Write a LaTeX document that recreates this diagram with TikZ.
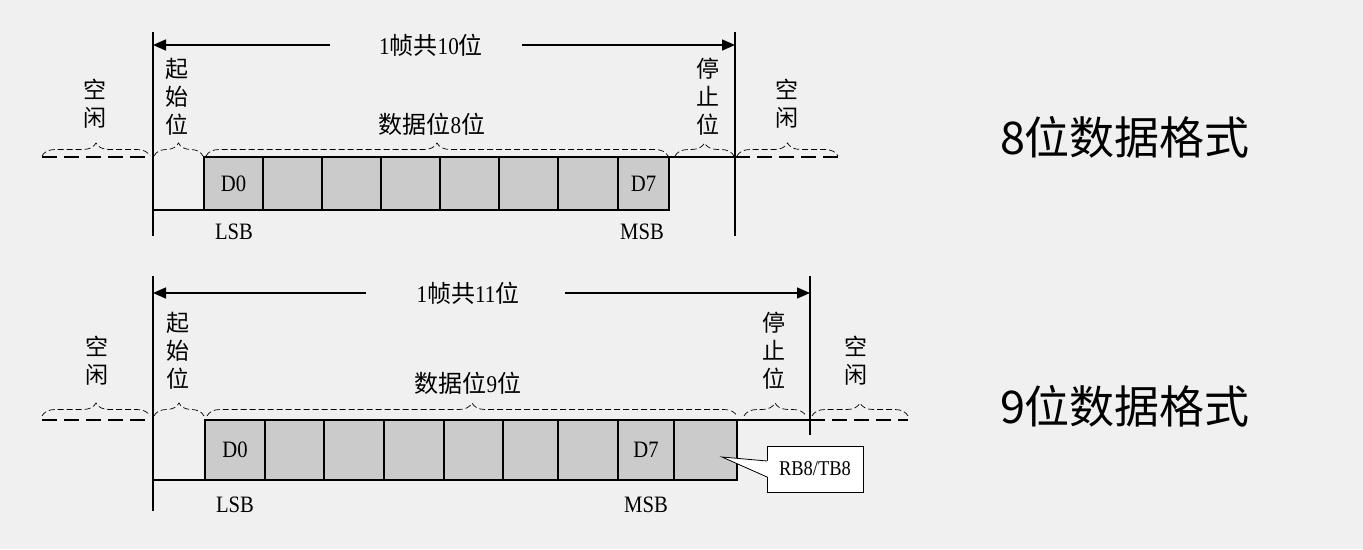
\documentclass[tikz,border=0pt]{standalone}
\usepackage{fontspec}
\setmainfont{Liberation Serif}[FakeStretch=0.88]
\newfontfamily\cjk{Noto Sans CJK SC}
\usetikzlibrary{arrows.meta,decorations.pathreplacing}
\definecolor{paper}{HTML}{F0F0F0}
\definecolor{bitfill}{HTML}{CBCBCB}
\begin{document}
\begin{tikzpicture}[x=1pt,y=-1pt,
  wire/.style={line width=1.5pt},
  idle/.style={line width=1.6pt, dash pattern=on 15pt off 7pt},
  brc/.style={decorate, decoration={brace, amplitude=13pt}, line width=0.7pt, dash pattern=on 6pt off 3pt},
  dim/.style={line width=1.4pt, -{Triangle[length=13pt,width=11pt]}},
  bit/.style={draw, line width=1.5pt, fill=bitfill, inner sep=0pt, outer sep=0pt,
              minimum height=53pt, font=\fontsize{23.5}{27}\selectfont},
  tag/.style={inner sep=0pt, font=\fontsize{23.5}{27}\selectfont},
  vlbl/.style={inner sep=0pt, align=center, font=\cjk\fontsize{23}{28}\selectfont},
  mix/.style={inner sep=0pt, font=\fontsize{24}{28}\selectfont},
  title/.style={inner sep=0pt, font=\cjk\fontsize{45}{54}\selectfont},
  callout/.style={draw, line width=0.8pt, fill=white, inner sep=0pt, outer sep=0pt,
              minimum width=96pt, minimum height=46pt, font=\fontsize{21}{24}\selectfont}]
\fill[paper] (0,0) rectangle (1363,549);
\useasboundingbox (0,0) rectangle (1363,549);

% ---------------- 8-bit frame ----------------
\foreach \a/\b/\t [count=\i from 0] in
  {204/263/D0, 263/322/{}, 322/381/{}, 381/440/{}, 440/499/{}, 499/558/{}, 558/618/{}, 618/669/D7}
  \node[bit, minimum width={\b-\a}] (t\i) at ({(\a+\b)/2},183.5) {\t};

\coordinate (tL)  at (153,210);
\coordinate (tR)  at (735,157);
\coordinate (tI0) at (42,157);
\coordinate (tI1) at (150,157);
\coordinate (tI2) at (838,157);
\draw[wire] (tL) -- (t0.south west);
\draw[wire] (t7.north east) -- (tR);
\draw[idle] (tI0) -- (tI1);
\draw[idle] (tR) -- (tI2);
\draw[wire] (153,32) -- (153,236);
\draw[wire] (735,32) -- (735,236);

\node[mix] (n10) at (431,45) {1{\cjk 帧共}10{\cjk 位}};
\coordinate (tA0) at (153,45);
\coordinate (tA1) at (735,45);
\draw[dim] (330,45) -- (tA0);
\draw[dim] (522,45) -- (tA1);

\draw[brc] (42,156) -- (150,156);
\draw[brc] (154,156) -- (203,156);
\draw[brc] (206,156) -- (668,156);
\draw[brc] (675,156) -- (734,156);
\draw[brc] (737,156) -- (838,156);

\node[vlbl] (tq0) at (95,104) {空\\闲};
\node[vlbl] (tqs) at (177,97) {起\\始\\位};
\node[mix]  (tqd) at (432,124) {{\cjk 数据位}8{\cjk 位}};
\node[vlbl] (tqe) at (708,97) {停\\止\\位};
\node[vlbl] (tq1) at (787,104) {空\\闲};

\node[tag] (tlsb) at (234,232) {LSB};
\node[tag] (tmsb) at (642,232) {MSB};

\node[title] (h8) at (1125,137) {8位数据格式};

% ---------------- 9-bit frame ----------------
\foreach \a/\b/\t [count=\i from 0] in
  {205/265/D0, 265/324/{}, 324/384/{}, 384/444/{}, 444/503/{}, 503/558/{}, 558/618/{}, 618/674/D7, 674/737/{}}
  \node[bit, minimum width={\b-\a}, minimum height=60pt] (b\i) at ({(\a+\b)/2},450) {\t};

\coordinate (bL)  at (153,480);
\coordinate (bR)  at (810,420);
\coordinate (bI0) at (42,420);
\coordinate (bI1) at (148,420);
\coordinate (bI2) at (908,420);
\draw[wire] (bL) -- (b0.south west);
\draw[wire] (b8.north east) -- (bR);
\draw[idle] (bI0) -- (bI1);
\draw[idle] (bR) -- (bI2);
\draw[wire] (153,276) -- (153,511);
\draw[wire] (810,276) -- (810,435);

\node[mix] (n11) at (468,293) {1{\cjk 帧共}11{\cjk 位}};
\coordinate (bA0) at (153,293);
\coordinate (bA1) at (810,293);
\draw[dim] (366,293) -- (bA0);
\draw[dim] (565,293) -- (bA1);

\draw[brc] (42,416) -- (150,416);
\draw[brc] (154,416) -- (204,416);
\draw[brc] (207,416) -- (737,416);
\draw[brc] (744,416) -- (806,416);
\draw[brc] (812,416) -- (908,416);

\node[vlbl] (bq0) at (97,361) {空\\闲};
\node[vlbl] (bqs) at (178,351) {起\\始\\位};
\node[mix]  (bqd) at (468,383) {{\cjk 数据位}9{\cjk 位}};
\node[vlbl] (bqe) at (774,351) {停\\止\\位};
\node[vlbl] (bq1) at (856,361) {空\\闲};

\node[tag] (blsb) at (235,505) {LSB};
\node[tag] (bmsb) at (646,505) {MSB};

% note box for the ninth bit
\node[callout] (cb) at (815,469) {RB8/TB8};
\coordinate (tip) at (722,457);
\coordinate (cu) at (767,461);
\coordinate (cl) at (767,477);
\fill[white] ([xshift=1.2pt]cu) -- (tip) -- ([xshift=1.2pt]cl) -- cycle;
\draw[line width=0.8pt] (cu) -- (tip) -- (cl);

\node[title] (h9) at (1125,406) {9位数据格式};
\end{tikzpicture}
\end{document}
